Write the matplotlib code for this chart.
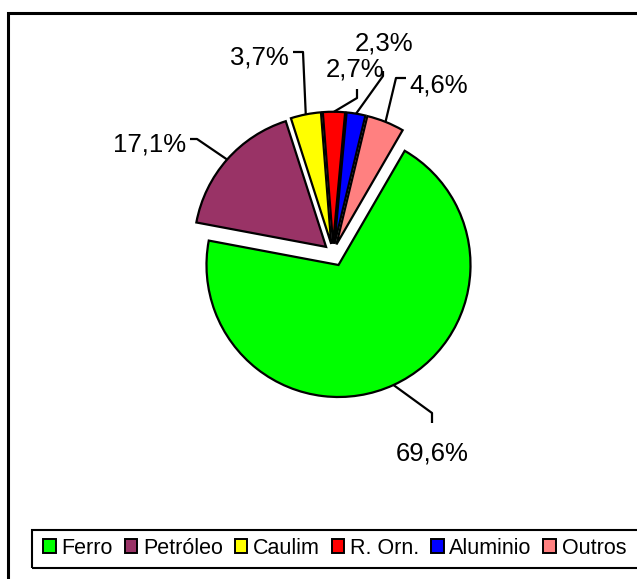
import numpy as np
import matplotlib
matplotlib.use("Agg")
import matplotlib.pyplot as plt
from matplotlib.patches import Rectangle

plt.rcParams['font.family'] = ['Liberation Sans', 'DejaVu Sans']

# --- data
categories = ['Ferro', 'Petróleo', 'Caulim', 'R. Orn.', 'Aluminio', 'Outros']
values = [69.6, 17.1, 3.7, 2.7, 2.3, 4.6]
labels = ['69,6%', '17,1%', '3,7%', '2,7%', '2,3%', '4,6%']
colors = ['#00FF00', '#993366', '#FFFF00', '#FF0000', '#0000FF', '#FF8080']
explode = [0.1, 0.07, 0.07, 0.07, 0.07, 0.07]

W, H = 637, 579
fig = plt.figure(figsize=(W / 100, H / 100), dpi=100)

# pie centre / radius in pixels (layout)
CX, CY, R = 333, 253, 132
ax = fig.add_axes([0, 0, 1, 1])

wedges, _ = ax.pie(values, colors=colors, explode=explode, startangle=59.9,
                   counterclock=False, radius=1,
                   wedgeprops=dict(edgecolor='black', linewidth=1.6))
ax.set_xlim(-CX / R, (W - CX) / R)
ax.set_ylim(-(H - CY) / R, CY / R)
ax.set_aspect('equal')
ax.axis('off')

def px(x, y):
    return ((x - CX) / R, (CY - y) / R)

# label layout: (elbow points in px, text baseline pos px, ha)
label_layout = [
    ([(432, 413), (432, 423)], (432, 460), 'center'),
    ([(197, 139), (190, 139)], (186, 151), 'right'),
    ([(303, 52), (293, 52)], (289, 65), 'right'),
    ([(357, 98), (357, 89)], (355, 76), 'center'),
    ([(383, 76), (383, 71)], (384, 51), 'center'),
    ([(396, 78), (406, 78)], (409, 92), 'left'),
]

for w, lab, (pts, tpos, ha) in zip(wedges, labels, label_layout):
    mid = np.deg2rad((w.theta1 + w.theta2) / 2)
    cx, cy = w.center
    anchor = (cx + np.cos(mid) * w.r, cy + np.sin(mid) * w.r)
    path = [anchor] + [px(*p) for p in pts]
    xs, ys = zip(*path)
    ax.plot(xs, ys, color='black', lw=1.6, solid_capstyle='butt')
    ax.text(*px(*tpos), lab, ha=ha, va='baseline', fontsize=18.5)

# outer frame
fig.add_artist(Rectangle((8 / W, -0.02), 1.05, 1 - 13 / H + 0.02,
                         transform=fig.transFigure, fill=False,
                         edgecolor='black', lw=2.2))
# legend frame
fig.add_artist(Rectangle((32 / W, 1 - 568 / H), 1.05, 38 / H,
                         transform=fig.transFigure, fill=False,
                         edgecolor='black', lw=1.5))

leg = fig.legend(wedges, categories, loc='center left',
                 bbox_to_anchor=(43 / W, 1 - 548 / H), ncol=6, frameon=False,
                 fontsize=15.5, handlelength=0.6, handleheight=0.6,
                 handletextpad=0.25, columnspacing=0.55, borderaxespad=0,
                 borderpad=0)
for h in leg.legend_handles:
    h.set_linewidth(1.4)

fig.savefig('out.png', dpi=100)
